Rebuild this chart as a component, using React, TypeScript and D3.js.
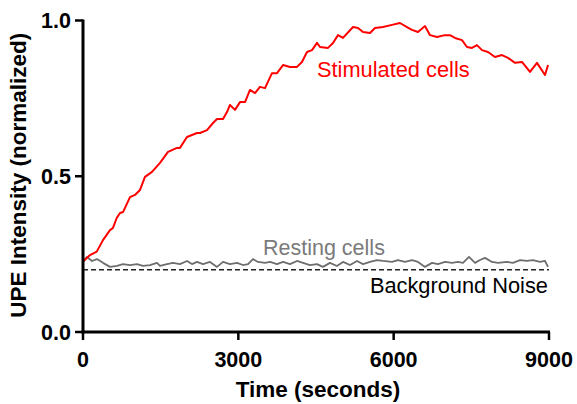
import React from "react";
import * as d3 from "d3";

const xTicks = [0, 3000, 6000, 9000];
const yTicks = [0, 0.5, 1.0];
const yTickLabels = ["0.0", "0.5", "1.0"];
const backgroundNoise = 0.2;

const stimTime = [0, 135, 265, 386, 521, 579, 651, 715, 773, 908, 1004, 1101, 1197, 1333, 1487, 1642, 1815, 1873, 2008, 2202, 2260, 2395, 2511, 2588, 2704, 2781, 2839, 2936, 3032, 3129, 3225, 3322, 3418, 3515, 3650, 3747, 3863, 3998, 4133, 4229, 4326, 4423, 4519, 4577, 4732, 4828, 4925, 5021, 5215, 5311, 5408, 5543, 5639, 5794, 5968, 6122, 6257, 6354, 6470, 6605, 6702, 6837, 6991, 7088, 7184, 7320, 7416, 7513, 7609, 7706, 7822, 7957, 8092, 8208, 8343, 8478, 8633, 8768, 8923, 8981];
const stimValue = [0.226, 0.247, 0.258, 0.295, 0.327, 0.334, 0.366, 0.382, 0.385, 0.433, 0.44, 0.456, 0.498, 0.514, 0.543, 0.578, 0.591, 0.591, 0.626, 0.639, 0.639, 0.648, 0.671, 0.684, 0.684, 0.706, 0.729, 0.713, 0.738, 0.738, 0.777, 0.767, 0.787, 0.783, 0.831, 0.831, 0.857, 0.851, 0.851, 0.867, 0.899, 0.905, 0.928, 0.915, 0.912, 0.928, 0.953, 0.944, 0.979, 0.976, 0.963, 0.96, 0.976, 0.979, 0.986, 0.992, 0.979, 0.97, 0.963, 0.982, 0.953, 0.947, 0.953, 0.953, 0.944, 0.937, 0.915, 0.912, 0.921, 0.905, 0.899, 0.883, 0.889, 0.88, 0.864, 0.867, 0.835, 0.864, 0.825, 0.857];

const restTime = [0, 77, 174, 270, 386, 521, 657, 773, 908, 1043, 1159, 1294, 1429, 1487, 1622, 1738, 1873, 2008, 2105, 2202, 2318, 2453, 2588, 2704, 2839, 2974, 3090, 3187, 3283, 3380, 3515, 3612, 3747, 3863, 3998, 4133, 4249, 4384, 4519, 4635, 4770, 4905, 5021, 5157, 5292, 5408, 5543, 5678, 5794, 5968, 6084, 6219, 6354, 6470, 6605, 6740, 6856, 6991, 7127, 7242, 7339, 7455, 7571, 7667, 7764, 7899, 8015, 8189, 8305, 8440, 8575, 8691, 8826, 8923, 8981];
const restValue = [0.225, 0.241, 0.228, 0.234, 0.222, 0.209, 0.212, 0.218, 0.215, 0.218, 0.212, 0.215, 0.222, 0.212, 0.218, 0.222, 0.218, 0.228, 0.218, 0.225, 0.218, 0.225, 0.209, 0.225, 0.218, 0.222, 0.215, 0.218, 0.234, 0.225, 0.222, 0.225, 0.218, 0.225, 0.218, 0.228, 0.222, 0.215, 0.218, 0.209, 0.222, 0.212, 0.225, 0.215, 0.228, 0.218, 0.225, 0.231, 0.228, 0.225, 0.231, 0.225, 0.231, 0.225, 0.209, 0.222, 0.218, 0.225, 0.222, 0.225, 0.222, 0.241, 0.222, 0.231, 0.238, 0.225, 0.222, 0.225, 0.222, 0.231, 0.228, 0.231, 0.225, 0.228, 0.209];

const W = 577;
const H = 404;
const font = "'Liberation Sans', Arial, Helvetica, sans-serif";

export default function App() {
  const x = d3.scaleLinear().domain([0, 9000]).range([83, 549]);
  const y = d3.scaleLinear().domain([0, 1]).range([332, 20.5]);

  const line = d3
    .line<[number, number]>()
    .x((d) => x(d[0]))
    .y((d) => y(d[1]));

  const stim = stimTime.map((t, i) => [t, stimValue[i]] as [number, number]);
  const rest = restTime.map((t, i) => [t, restValue[i]] as [number, number]);

  const x0 = x(0);
  const y0 = y(0);

  return (
    <svg
      width={W}
      height={H}
      style={{ position: "absolute", left: 0, top: 0, display: "block", background: "#fff" }}
      fontFamily={font}
    >
      {/* background noise */}
      <line
        x1={x(0)}
        x2={x(9000)}
        y1={y(backgroundNoise)}
        y2={y(backgroundNoise)}
        stroke="#222"
        strokeWidth={1.6}
        strokeDasharray="5,3"
      />
      {/* resting */}
      <path d={line(rest) || ""} fill="none" stroke="#6e6e6e" strokeWidth={1.8} strokeLinejoin="round" />
      {/* stimulated */}
      <path d={line(stim) || ""} fill="none" stroke="#ff0000" strokeWidth={2} strokeLinejoin="round" />

      {/* axes */}
      <line x1={x0} x2={x0} y1={y(1) - 1} y2={y0 + 1.5} stroke="#000" strokeWidth={3} />
      <line x1={x0 - 1.5} x2={x(9000) + 1} y1={y0} y2={y0} stroke="#000" strokeWidth={3} />

      {yTicks.map((t, i) => (
        <g key={"y" + t}>
          <line x1={x0 - 8} x2={x0} y1={y(t)} y2={y(t)} stroke="#000" strokeWidth={2.5} />
          <text
            x={x0 - 12}
            y={y(t)}
            dy="0.36em"
            textAnchor="end"
            fontWeight="bold"
            fontSize={21.5}
            fill="#000"
          >
            {yTickLabels[i]}
          </text>
        </g>
      ))}
      {xTicks.map((t) => (
        <g key={"x" + t}>
          <line x1={x(t)} x2={x(t)} y1={y0} y2={y0 + 8} stroke="#000" strokeWidth={2.5} />
          <text x={x(t)} y={367} textAnchor="middle" fontWeight="bold" fontSize={21.5} fill="#000">
            {t}
          </text>
        </g>
      ))}

      <text x={(x(0) + x(9000)) / 2 + 2} y={397} textAnchor="middle" fontWeight="bold" fontSize={22.5} fill="#000">
        Time (seconds)
      </text>
      <text
        transform={`translate(26, ${(y(0) + y(1)) / 2 - 1}) rotate(-90)`}
        textAnchor="middle"
        fontWeight="bold"
        fontSize={22.5}
        fill="#000"
      >
        UPE Intensity (normalized)
      </text>

      <text x={317} y={77} fontSize={21.8} fill="#ff0000">
        Stimulated cells
      </text>
      <text x={263} y={255} fontSize={21.5} fill="#7a7a7a">
        Resting cells
      </text>
      <text x={548} y={293} textAnchor="end" fontSize={21.8} fill="#000">
        Background Noise
      </text>
    </svg>
  );
}
